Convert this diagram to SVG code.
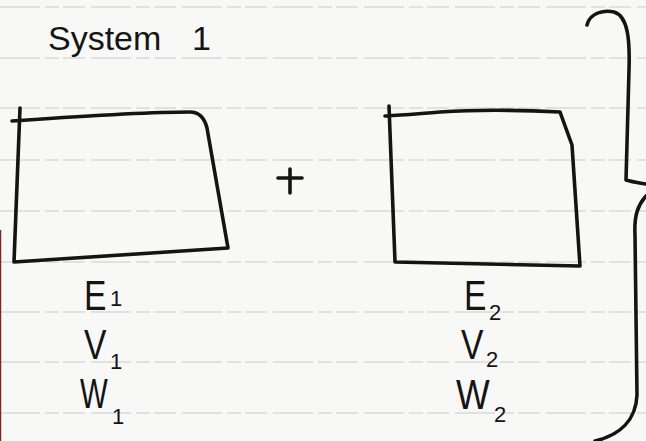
<svg xmlns="http://www.w3.org/2000/svg" width="646" height="441" viewBox="0 0 646 441">
<style>
.ink{fill:none;stroke:#141414;stroke-width:3.6;stroke-linecap:round;stroke-linejoin:round}
.rule{stroke:#d9d9d9;stroke-width:1.5;stroke-dasharray:40 5 14 4 22 6}
.hand{font-family:"Liberation Sans","DejaVu Sans",sans-serif;fill:#141414}
.big{font-size:42px}
.sub{font-size:22px}
</style>
<rect width="646" height="441" fill="#f8f8f7"/>
<g id="ruling">
<line class="rule" x1="0" y1="7" x2="646" y2="7"/>
<line class="rule" x1="0" y1="58" x2="646" y2="58"/>
<line class="rule" x1="0" y1="108" x2="646" y2="108"/>
<line class="rule" x1="0" y1="160" x2="646" y2="160"/>
<line class="rule" x1="0" y1="211" x2="646" y2="211"/>
<line class="rule" x1="0" y1="262" x2="646" y2="262"/>
<line class="rule" x1="0" y1="312" x2="646" y2="312"/>
<line class="rule" x1="0" y1="362" x2="646" y2="362"/>
<line class="rule" x1="0" y1="413" x2="646" y2="413"/>
<line x1="0.5" y1="230" x2="0.5" y2="441" stroke="#7a2a2a" stroke-width="1.5"/>
</g>
<g id="title">
<text class="hand" x="48" y="50" font-size="34">System<tspan x="192">1</tspan></text>
</g>
<g id="system1-box">
<path class="ink" d="M20,108 L14,262 L228,248 L207,128 Q203,112 190,112 C140,112 70,117 12,121"/>
</g>
<g id="plus">
<path class="ink" d="M290,169 L290,193 M278,178 L302,178"/>
</g>
<g id="system2-box">
<path class="ink" d="M389,106 L395,262 L580,266 L572,145 L560,112 C520,110 470,110 440,112 C420,114 400,115 385,116"/>
</g>
<g id="brace">
<path class="ink" d="M587,25 C590,12 605,10 614,12 C628,16 630,40 629,70 L626,180 C632,182 640,183 646,184"/>
<path class="ink" d="M646,196 C638,205 634,215 635,235 L637,395 C636,420 620,435 595,441"/>
</g>
<g id="labels1">
<text class="hand big" transform="translate(84,310) scale(0.8,1)">E</text>
<text class="hand sub" x="110" y="306">1</text>
<text class="hand big" transform="translate(84,359) scale(0.8,1)">V</text>
<text class="hand sub" x="110" y="369">1</text>
<text class="hand big" transform="translate(80,408) scale(0.7,1)">W</text>
<text class="hand sub" x="112" y="424">1</text>
</g>
<g id="labels2">
<text class="hand big" transform="translate(464,310) scale(0.8,1)">E</text>
<text class="hand sub" x="489" y="320">2</text>
<text class="hand big" transform="translate(461,359) scale(0.8,1)">V</text>
<text class="hand sub" x="486" y="367">2</text>
<text class="hand big" transform="translate(456,409) scale(0.85,1)">W</text>
<text class="hand sub" x="494" y="422">2</text>
</g>
</svg>
